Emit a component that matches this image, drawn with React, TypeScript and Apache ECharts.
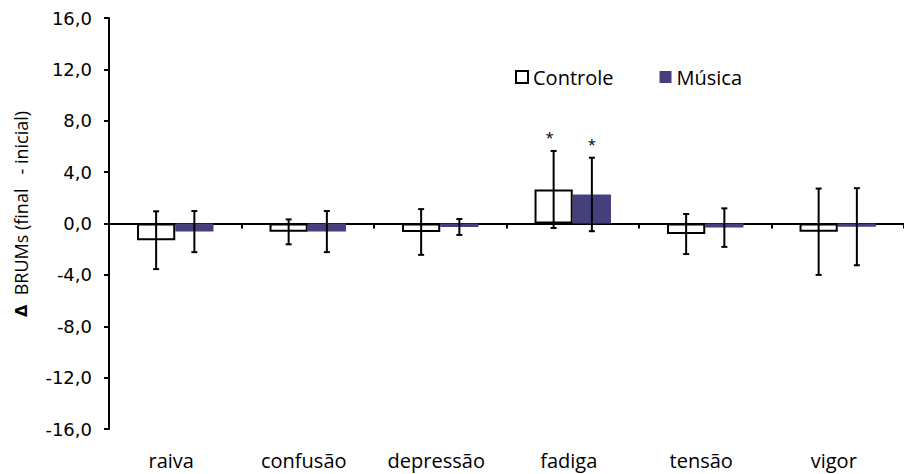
import React, { useEffect, useRef } from "react";
import * as echarts from "echarts";

const categories = ["raiva", "confusão", "depressão", "fadiga", "tensão", "vigor"];
const controle = [-1.3, -0.65, -0.66, 2.65, -0.82, -0.64];
const controleSD = [2.25, 0.97, 1.78, 3.0, 1.56, 3.36];
const musica = [-0.63, -0.63, -0.27, 2.26, -0.32, -0.25];
const musicaSD = [1.6, 1.6, 0.62, 2.86, 1.5, 3.0];
const controleSig = [false, false, false, true, false, false];
const musicaSig = [false, false, false, true, false, false];
const yTicks = { min: -16, max: 16, interval: 4 };
const yAxisDelta = "Δ";
const yAxisTitle = "  BRUMs (final   - inicial)";

const FONT = "Open Sans";
const TICK_FONT = "DejaVu Sans";
const BAR_GAP_RATIO = 0.423;

function errorSeries(
  name: string,
  means: number[],
  sds: number[],
  sig: boolean[],
  side: number,
  starDx: number
) {
  return {
    type: "custom",
    name,
    xAxisIndex: 0,
    yAxisIndex: 0,
    z: 10,
    data: means.map((m, i) => [i, m, sds[i], sig[i] ? 1 : 0]),
    renderItem: (params: any, api: any) => {
      const i = api.value(0);
      const m = api.value(1);
      const sd = api.value(2);
      const s = api.value(3);
      const catW = api.size([1, 0])[0];
      const bw = (catW * (1 - BAR_GAP_RATIO)) / 2;
      const top = api.coord([i, m + sd]);
      const bot = api.coord([i, m - sd]);
      const x = top[0] + (side * bw) / 2;
      const cap = 3;
      const st = { stroke: "#000", lineWidth: 2 };
      const children: any[] = [
        { type: "line", shape: { x1: x, y1: top[1], x2: x, y2: bot[1] }, style: st },
        { type: "line", shape: { x1: x - cap, y1: top[1], x2: x + cap, y2: top[1] }, style: st },
        { type: "line", shape: { x1: x - cap, y1: bot[1], x2: x + cap, y2: bot[1] }, style: st },
      ];
      if (s) {
        children.push({
          type: "text",
          style: {
            text: "*",
            x: x + starDx,
            y: top[1] - 14,
            align: "center",
            verticalAlign: "middle",
            fontSize: 15,
            fontFamily: FONT,
            fill: "#000",
          },
        });
      }
      return { type: "group", children };
    },
  };
}

export default function App() {
  const ref = useRef<HTMLDivElement>(null);
  useEffect(() => {
    if (!ref.current) return;
    const chart = echarts.init(ref.current, undefined, { renderer: "svg" });
    chart.setOption({
      animation: false,
      textStyle: { fontFamily: FONT, color: "#000" },
      grid: { left: 109, top: 18, width: 801, height: 411, containLabel: false },
      legend: {
        left: 510,
        top: 62,
        itemWidth: 12,
        itemHeight: 12,
        itemGap: 46,
        textStyle: { fontSize: 20, fontFamily: FONT, color: "#000" },
        data: [
          { name: "Controle", icon: "rect", itemStyle: { color: "#fff", borderColor: "#000", borderWidth: 2 } },
          { name: "Música", icon: "rect", itemStyle: { color: "#45407C", borderWidth: 0 } },
        ],
      },
      graphic: [
        {
          type: "text",
          x: 21,
          y: 214,
          rotation: Math.PI / 2,
          style: {
            text: "{b|" + yAxisDelta + "}{t|" + yAxisTitle + "}",
            align: "center",
            verticalAlign: "middle",
            fontSize: 18,
            fontFamily: FONT,
            fill: "#000",
            rich: {
              b: { fontWeight: "bold", fontSize: 16, fontFamily: "DejaVu Sans", fill: "#000" },
              t: { fontSize: 18, fontFamily: FONT, fill: "#000" },
            },
          },
        },
      ],
      xAxis: [
        {
          type: "category",
          data: categories,
          axisLine: { onZero: true, lineStyle: { color: "#000", width: 2 } },
          axisTick: { show: true, length: 5, lineStyle: { color: "#000", width: 2 } },
          axisLabel: { show: false },
          splitLine: { show: false },
        },
        {
          type: "category",
          data: categories,
          position: "bottom",
          axisLine: { show: false, onZero: false },
          axisTick: { show: false },
          axisLabel: {
            show: true,
            margin: 21,
            fontSize: 20,
            fontFamily: FONT,
            color: "#000",
            padding: [0, 8, 0, 0],
          },
          splitLine: { show: false },
        },
      ],
      yAxis: {
        type: "value",
        min: yTicks.min,
        max: yTicks.max,
        interval: yTicks.interval,
        axisLine: { show: true, lineStyle: { color: "#000", width: 2 } },
        axisTick: { show: true, length: 5, lineStyle: { color: "#000", width: 2 } },
        axisLabel: {
          margin: 17,
          fontSize: 18,
          fontFamily: TICK_FONT,
          color: "#000",
          formatter: (v: number) => v.toFixed(1).replace(".", ","),
        },
        splitLine: { show: false },
      },
      series: [
        {
          type: "bar",
          name: "Controle",
          data: controle,
          barGap: "0%",
          barCategoryGap: BAR_GAP_RATIO * 100 + "%",
          itemStyle: { color: "#fff", borderColor: "#000", borderWidth: 2 },
        },
        {
          type: "bar",
          name: "Música",
          data: musica,
          barGap: "0%",
          barCategoryGap: BAR_GAP_RATIO * 100 + "%",
          itemStyle: { color: "#45407C" },
        },
        errorSeries("errC", controle, controleSD, controleSig, -1, -4),
        errorSeries("errM", musica, musicaSD, musicaSig, 1, 0),
      ],
    });
    return () => chart.dispose();
  }, []);
  return (
    <div
      ref={ref}
      style={{ position: "absolute", left: 0, top: 0, width: 904, height: 474 }}
    />
  );
}
